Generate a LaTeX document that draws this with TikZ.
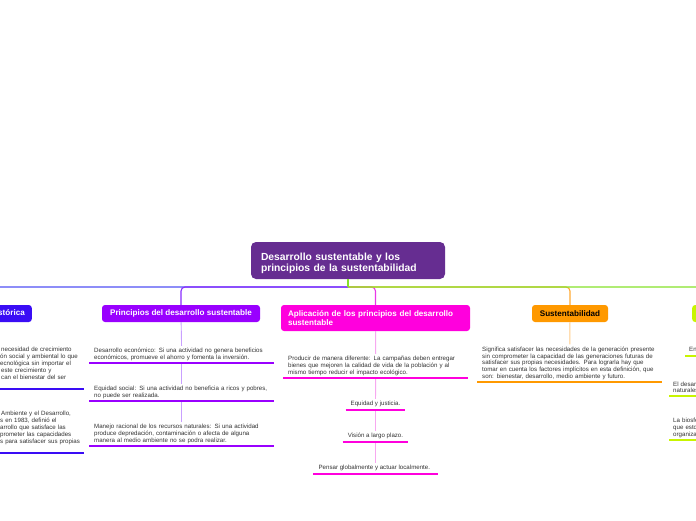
\documentclass[tikz,border=0pt]{standalone}
\usepackage{fontspec}
\setmainfont{Liberation Sans}
\usetikzlibrary{positioning}

\definecolor{raiz}{HTML}{662D91}
\definecolor{azul}{HTML}{3A0DF5}
\definecolor{morado}{HTML}{9900FF}
\definecolor{fucsia}{HTML}{FF00DD}
\definecolor{naranja}{HTML}{FF9900}
\definecolor{lima}{HTML}{C8F500}
\definecolor{gris}{HTML}{333333}
\definecolor{azulrama}{HTML}{5050F5}
\definecolor{moradorama}{HTML}{8A2EFF}
\definecolor{fucsiarama}{HTML}{E838E8}
\definecolor{naranjarama}{HTML}{FFAA33}
\definecolor{verderama}{HTML}{86E22A}
\definecolor{moradoclaro}{HTML}{C9A0FF}
\definecolor{fucsiaclaro}{HTML}{F7A8F0}
\definecolor{naranjaclaro}{HTML}{FFCC88}

\begin{document}
\begin{tikzpicture}[x=1pt,y=-1pt,
	cab/.style={rounded corners=3pt, minimum height=17pt, inner xsep=7pt, inner ysep=2pt, font=\fontsize{8.1}{9.5}\selectfont\bfseries, text=white},
	hoja/.style={anchor=south west, inner xsep=5pt, inner ysep=2pt, text width=175pt, align=left, text=gris, font=\fontsize{6.15}{6.8}\selectfont, execute at begin node=\strut, execute at end node={\rule[-1pt]{0pt}{1pt}}},
	corta/.style={anchor=south, inner xsep=5pt, inner ysep=2pt, align=center, text=gris, font=\fontsize{6.15}{6.8}\selectfont, execute at begin node=\strut, execute at end node={\rule[-1pt]{0pt}{1pt}}},
	rama/.style={line width=1.1pt, rounded corners=4pt},
	enlace/.style={line width=0.9pt},
	subraya/.style={line width=2.6pt}]
	\useasboundingbox[fill=white] (0,0) rectangle (696,520);

	% raiz y cabeceras
	\node[fill=raiz, rounded corners=5pt, minimum width=194pt, minimum height=37pt, text width=174pt, inner xsep=10pt, align=left, text=white, font=\fontsize{10.3}{11}\selectfont\bfseries] (raiz) at (348,260.5) {\rule{0pt}{13.5pt}Desarrollo sustentable y los\\ principios de la sustentabilidad};
	\node[cab, fill=azul, anchor=east] (hist) at (32,313.5) {Perspectiva histórica};
	\node[cab, fill=morado, minimum width=158pt] (prin) at (181,313.5) {Principios del desarrollo sustentable};
	\node[cab, fill=fucsia, minimum height=26pt, text width=175pt, align=left] (apli) at (375.5,318) {Aplicación de los principios del desarrollo\\ sustentable};
	\node[cab, fill=naranja, text=black, minimum width=76pt] (sust) at (570,313.5) {Sustentabilidad};
	\node[cab, fill=lima, anchor=west, minimum width=80pt] (otra) at (692,313.5) {};

	% ramas
	\coordinate (hub) at (348,287);
	\draw[rama, azulrama] (hub) -| (hist.north);
	\draw[rama, moradorama] (hub) -| (prin.north);
	\draw[rama, fucsiarama] (hub) -| (apli.north);
	\draw[rama, naranjarama] (hub) -| (sust.north);
	\draw[rama, verderama] (hub) -| (otra.north);
	\draw[rama, verderama] (raiz.south) -- (hub);

	% hojas
	\foreach \y/\nm/\txt in {
		363/p1/{Desarrollo económico: Si una actividad no genera beneficios\\ económicos, promueve el ahorro y fomenta la inversión.},
		401/p2/{Equidad social: Si una actividad no beneficia a ricos y pobres,\\ no puede ser realizada.},
		446/p3/{Manejo racional de los recursos naturales: Si una actividad\\ produce depredación, contaminación o afecta de alguna\\ manera al medio ambiente no se podra realizar.}
	}{
		\node[hoja] (\nm) at (89,\y) {\txt};
	}
	\node[hoja] (a1) at (283,378) {Producir de manera diferente: La campañas deben entregar\\ bienes que mejoren la calidad de vida de la población y al\\ mismo tiempo reducir el impacto ecológico.};
	\foreach \y/\nm/\txt in {
		410/a2/{Equidad y justicia.},
		442/a3/{Visión a largo plazo.},
		474/a4/{Pensar globalmente y actuar localmente.}
	}{
		\node[corta] (\nm) at (375.5,\y) {\txt};
	}
	\node[hoja] (s1) at (477,382) {Significa satisfacer las necesidades de la generación presente\\ sin comprometer la capacidad de las generaciones futuras de\\ satisfacer sus propias necesidades. Para lograrla hay que\\ tomar en cuenta los factores implícitos en esta definición, que\\ son: bienestar, desarrollo, medio ambiente y futuro.};
	\node[hoja, text width=79pt] (h1) at (-5,389) {\mbox{\hspace{1pt}necesidad de crecimiento}\\ \mbox{ón social y ambiental lo que}\\ \mbox{ecnológica sin importar el}\\ \mbox{\hspace{1pt}este crecimiento y}\\ \mbox{\hspace{1pt}can el bienestar del ser}\\ ~};
	\node[hoja, text width=79pt] (h2) at (-5,453) {\mbox{\hspace{1pt}Ambiente y el Desarrollo,}\\ \mbox{s en 1983, definió el}\\ \mbox{arrollo que satisface las}\\ \mbox{prometer las capacidades}\\ \mbox{s para satisfacer sus propias}\\ ~};
	\node[hoja, text width=60pt, inner xsep=4pt] (r1) at (685,356) {En};
	\node[hoja, text width=60pt, inner xsep=4pt] (r2) at (669,396) {\mbox{El desarrollo}\\ naturales};
	\node[hoja, text width=60pt, inner xsep=4pt] (r3) at (669,440) {\mbox{La biosfera}\\ \mbox{que estos}\\ organizaciones};

	% enlaces
	\draw[enlace, moradoclaro] (prin) -- (p1);
	\draw[enlace, moradoclaro] (p1) -- (p2);
	\draw[enlace, moradoclaro] (p2) -- (p3);
	\draw[enlace, fucsiaclaro] (apli) -- (a1);
	\draw[enlace, fucsiaclaro] (a1) -- (a2);
	\draw[enlace, fucsiaclaro] (a2) -- (a3);
	\draw[enlace, fucsiaclaro] (a3) -- (a4);
	\draw[enlace, naranjaclaro] (sust) -- (s1);

	% subrayados
	\foreach \n/\c in {p1/morado, p2/morado, p3/morado, a1/fucsia, a2/fucsia, a3/fucsia, a4/fucsia, s1/naranja, h1/azul, h2/azul, r1/lima, r2/lima, r3/lima}
	{\draw[subraya, \c] (\n.south west) -- (\n.south east);}
\end{tikzpicture}
\end{document}
